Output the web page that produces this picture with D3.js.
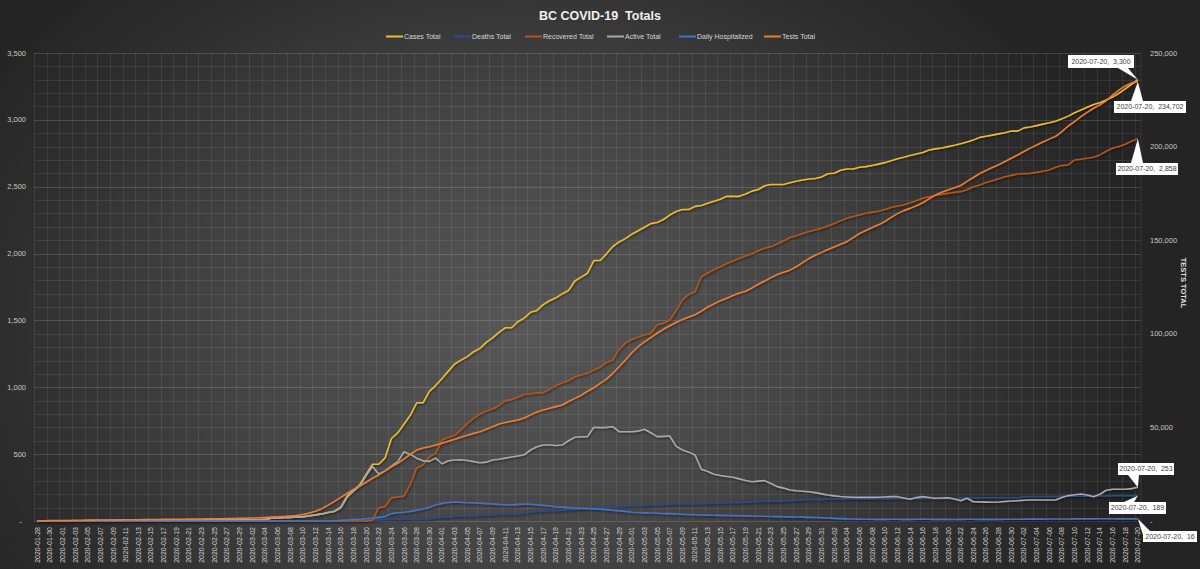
<!DOCTYPE html>
<html><head><meta charset="utf-8">
<script src="https://cdn.jsdelivr.net/npm/d3@7"></script>
<style>html,body{margin:0;padding:0;background:#2a2a2a;} svg{display:block;} text{font-family:"Liberation Sans",Arial,sans-serif;}</style>
</head><body><svg id="chart" width="1200" height="569"></svg>
<script>
// ---------- DATA ----------
const startDate = "2020-01-28", endDate = "2020-07-20";
const parseD = d3.timeParse("%Y-%m-%d"), fmtD = d3.timeFormat("%Y-%m-%d");
const categories = d3.timeDay.range(parseD(startDate), d3.timeDay.offset(parseD(endDate), 1)).map(fmtD);

const casesTotal = [
1,1,1,1,1,1,1,2,2,4, 4,4,4,4,4,4,4,5,5,5, 5,5,5,6,6,6,6,7,7,7, 7,7,8,8,8,9,12,21,21,27,
27,32,32,39,46,53,64,73,103,186, 231,271,348,424,424,472,617,659,725,792,
884,884,970,1013,1066,1121,1174,1203,1229,1266, 1291,1336,1370,1410,1445,1445,1490,1517,1561,1575,
1618,1647,1669,1699,1724,1795,1824,1853,1948,1948, 1998,2053,2087,2112,2145,2171,2197,2224,2232,2255,
2288,2315,2330,2330,2353,2360,2376,2392,2407,2428, 2428,2428,2446,2467,2479,2507,2517,2517,2517,2530,
2541,2550,2558,2562,2573,2597,2601,2623,2632,2632, 2645,2650,2659,2669,2680,2694,2709,2720,2733,2745,
2756,2775,2783,2790,2800,2810,2822,2835,2849,2869, 2878,2886,2895,2904,2916,2916,2940,2947,2957,2968,
2978,2990,3008,3028,3053,3074,3095,3115,3128,3149, 3170,3198,3232,3266,3300];

const deathsTotal = [
0,0,0,0,0,0,0,0,0,0, 0,0,0,0,0,0,0,0,0,0, 0,0,0,0,0,0,0,0,0,0, 0,0,0,0,0,0,0,0,0,0,
0,1,1,1,1,1,1,1,4,7, 7,8,8,10,10,13,13,14,14,16,
17,17,19,24,31,31,35,38,38,39, 43,43,48,50,50,50,55,58,69,72,
75,78,78,81,86,87,90,94,100,100, 100,105,109,111,114,117,117,120,121,124,
126,129,130,130,130,131,132,135,137,139, 139,139,141,144,146,149,149,149,149,153,
155,157,161,161,161,164,165,165,166,166, 166,166,167,167,167,167,168,168,168,168,
168,168,168,168,168,168,171,172,172,173, 174,174,174,174,174,174,181,183,183,183,
183,183,186,186,186,186,186,187,187,188, 189,189,189,189,189];

const recoveredTotal = [
0,0,0,0,0,0,0,0,0,0, 0,0,0,0,0,0,0,0,0,0, 0,0,0,0,0,0,0,0,0,0, 0,0,0,0,0,0,0,0,0,0,
0,0,0,0,0,0,0,0,0,0, 0,0,0,6,100,107,173,180,186,275,
396,419,481,506,606,627,641,681,728,768, 800,822,838,864,900,908,926,948,952,958,
960,984,1012,1034,1049,1079,1092,1107,1129,1150, 1185,1204,1284,1330,1359,1376,1391,1404,1466,1479,
1503,1572,1653,1695,1715,1827,1855,1880,1902,1925, 1944,1965,1981,1998,2021,2040,2052,2071,2095,2120,
2134,2150,2165,2177,2189,2207,2224,2245,2264,2277, 2289,2301,2310,2316,2330,2345,2356,2363,2380,2395,
2413,2425,2434,2443,2450,2458,2463,2478,2500,2513, 2532,2545,2560,2575,2585,2595,2598,2600,2607,2616,
2625,2645,2658,2663,2700,2706,2713,2720,2738,2765, 2787,2800,2818,2840,2858];

const activeTotal = [
1,1,1,1,1,1,1,2,2,4, 4,4,4,4,4,4,4,5,5,5, 5,5,5,6,6,6,6,7,7,7, 7,7,8,8,8,9,12,21,21,27,
27,31,31,38,45,52,63,72,99,179, 224,263,340,408,351,375,410,444,518,498,
470,450,446,470,428,450,456,458,452,444, 436,440,456,462,470,478,486,495,531,555,
568,568,565,568,600,626,630,631,701,698, 700,705,668,668,668,672,686,660,631,633,
636,560,531,515,494,387,370,349,340,333, 327,315,303,294,298,302,281,257,246,232,
226,222,219,212,203,194,188,183,180,178, 177,177,177,178,180,182,182,172,162,175,
182,176,170,172,174,165,152,170,144,143, 141,140,142,146,150,152,155,157,157,157,
157,157,175,190,196,202,195,182,200,230, 237,237,238,242,253];

const dailyHospitalized = [
0,0,0,0,0,0,0,0,0,0, 0,0,0,0,0,0,0,0,0,0, 0,0,0,0,0,0,0,0,0,0, 0,0,0,0,0,0,0,0,0,0,
0,0,0,0,0,0,0,0,5,7, 10,13,17,20,27,33,55,62,66,72,
81,90,102,120,132,138,142,140,137,136, 134,130,128,124,122,120,124,127,125,122,
117,112,107,104,100,97,95,93,91,88, 85,80,76,72,66,63,61,60,58,56,
55,53,51,49,47,45,44,43,42,41, 40,39,38,37,36,35,34,33,32,31,
30,29,27,26,24,22,20,18,16,15, 14,13,13,12,12,13,13,12,12,13,
14,13,12,12,12,11,12,13,13,12, 12,12,12,13,13,13,14,14,14,14,
15,15,15,15,16,16,16,16,17,17, 17,16,16,16,16];

const testsTotal = [
100,130,180,240,270,300,360,420,450,480, 510,530,560,610,650,680,700,730,790,820,
850,880,920,960,1000,1040,1080,1130,1180,1240, 1300,1360,1420,1500,1600,1750,1900,2050,2200,2400,
2650,2950,3500,4300,5200,6600,8500,10500,12600,14800, 16900,18700,20700,22800,24600,26800,29000,30800,33200,35600,
37900,39000,39700,40600,41500,42600,43700,44700,45800,46800, 47700,49000,50400,51800,52600,53300,54000,55000,56700,58200,
59300,60200,61100,62000,63800,65500,67200,69300,71200,73500, 75800,78900,82400,86000,89900,93100,95700,98000,100300,102400,
104300,106000,107600,109000,110200,112100,114300,116000,117600,119000, 120400,121800,122700,124500,126500,128200,130000,131700,132900,134000,
135800,138000,140200,142000,143500,145000,146400,147800,149200,151400, 153600,155200,156800,158200,160000,162200,164200,165800,167000,168400,
170000,172100,174100,175600,176800,178000,179200,181400,183500,185600, 187200,188800,190300,192000,193800,195500,197400,199200,200900,202500,
204000,205500,208000,211000,213300,216000,218300,220500,222300,224500, 227500,230200,232400,234000,234702];

const leftTicks = [0,500,1000,1500,2000,2500,3000,3500];
const rightTicks = [0,50000,100000,150000,200000,250000];
const seriesNames = ["Cases Total","Deaths Total","Recovered Total","Active Total","Daily Hospitalized","Tests Total"];
const titleText = "BC COVID-19  Totals";
const rightAxisTitle = "TESTS TOTAL";

// ---------- LAYOUT ----------
const W = 1200, H = 569;
const M = {left: 34, right: 1141, top: 53, bottom: 521};
const colors = ["#EDBB2F","#2E4A8B","#B3561A","#A8A8A8","#4472C4","#ED7D31"];
const svg = d3.select("#chart");

const defs = svg.append("defs");
const rg = defs.append("radialGradient").attr("id","bg").attr("gradientUnits","userSpaceOnUse")
  .attr("cx",520).attr("cy",330).attr("r",640)
  .attr("gradientTransform","translate(520 330) scale(1 0.75) translate(-520 -330)");
rg.append("stop").attr("offset","0%").attr("stop-color","#575757");
rg.append("stop").attr("offset","45%").attr("stop-color","#454545");
rg.append("stop").attr("offset","80%").attr("stop-color","#2e2e2e");
rg.append("stop").attr("offset","100%").attr("stop-color","#242424");
const f = defs.append("filter").attr("id","sh").attr("x","-5%").attr("y","-5%").attr("width","110%").attr("height","110%");
f.append("feDropShadow").attr("dx",0.8).attr("dy",1.2).attr("stdDeviation",0.8).attr("flood-color","#000").attr("flood-opacity",0.55);

svg.append("rect").attr("width",W).attr("height",H).attr("fill","url(#bg)");

const x = d3.scaleBand().domain(categories).range([M.left, M.right]).padding(0);
const xc = d => x(d) + x.bandwidth()/2;
const yL = d3.scaleLinear().domain([0,3500]).range([M.bottom, M.top]);
const yR = d3.scaleLinear().domain([0,250000]).range([M.bottom, M.top]);

// gridlines
const grid = svg.append("g");
const minorVals = d3.range(0, 3501, 100);
grid.selectAll("line.hm").data(minorVals).join("line")
  .attr("x1",M.left).attr("x2",M.right)
  .attr("y1",d=>Math.round(yL(d))+0.5).attr("y2",d=>Math.round(yL(d))+0.5)
  .attr("stroke", d => d % 500 === 0 ? "rgba(255,255,255,0.15)" : "rgba(255,255,255,0.08)")
  .attr("stroke-width",1);
grid.selectAll("line.v").data(categories.filter((d,i)=>i%2===0).concat(["__end"])).join("line")
  .attr("x1",d=> d==="__end" ? M.right : Math.round(x(d))+0.5)
  .attr("x2",d=> d==="__end" ? M.right : Math.round(x(d))+0.5)
  .attr("y1",M.top).attr("y2",M.bottom)
  .attr("stroke","rgba(255,255,255,0.08)").attr("stroke-width",1);

// axes labels
const fmtN = d => d === 0 ? "-" : d3.format(",")(d);
svg.append("g").selectAll("text").data(leftTicks).join("text")
  .attr("x", d => d===0 ? 22 : 26).attr("y", d => yL(d)).attr("dy","0.35em")
  .attr("text-anchor","end").attr("font-size",7.5).attr("fill","#c8c8c8").text(fmtN);
svg.append("g").selectAll("text").data(rightTicks).join("text")
  .attr("x", 1150).attr("y", d => yR(d)).attr("dy","0.35em")
  .attr("text-anchor","start").attr("font-size",7.5).attr("fill","#c8c8c8").text(fmtN);
svg.append("text").attr("transform","translate(1184,283) rotate(90)")
  .attr("text-anchor","middle").attr("dy","0.35em").attr("font-size",7.5).attr("font-weight","bold")
  .attr("fill","#e0e0e0").text(rightAxisTitle);

// x labels
svg.append("g").selectAll("text").data(categories.filter((d,i)=>i%2===0)).join("text")
  .attr("transform", d => `translate(${xc(d)},527) rotate(-90)`)
  .attr("text-anchor","end").attr("dy","0.35em").attr("font-size",7).attr("fill","#d2d2d2").text(d=>d);

// lines
const seriesData = [casesTotal, deathsTotal, recoveredTotal, activeTotal, dailyHospitalized, testsTotal];
const scales = [yL, yL, yL, yL, yL, yR];
const lg = svg.append("g").attr("filter","url(#sh)");
seriesData.forEach((arr, k) => {
  const line = d3.line().x((v,i)=>xc(categories[i])).y(v=>scales[k](v));
  lg.append("path").datum(arr).attr("d", line).attr("fill","none")
    .attr("stroke", colors[k]).attr("stroke-width",1.6).attr("stroke-linejoin","round");
});

// title
svg.append("text").attr("x",600).attr("y",20).attr("text-anchor","middle")
  .attr("font-size",12.5).attr("font-weight","bold").attr("fill","#f0f0f0")
  .style("white-space","pre").text(titleText);

// legend
const legendX = [386, 454, 525, 607, 679, 764];
const leg = svg.append("g");
seriesNames.forEach((n,k) => {
  leg.append("line").attr("x1",legendX[k]).attr("x2",legendX[k]+17).attr("y1",36.5).attr("y2",36.5)
    .attr("stroke",colors[k]).attr("stroke-width",2);
  leg.append("text").attr("x",legendX[k]+18).attr("y",39).attr("font-size",7).attr("fill","#d6d6d6").text(n);
});

// callouts
const last = categories.length - 1;
const callouts = [
  {k:0, box:[1068,55,66,13], base:[1118,68,1128,68]},
  {k:5, box:[1114,101,72,12], base:[1131,101,1143,101]},
  {k:2, box:[1116,163,62,12], base:[1131,163,1143,163]},
  {k:3, box:[1118,463,56,12], base:[1128,475,1139,475]},
  {k:4-3, box:[1109,502,57,12], base:[1124,502,1134,502]},
  {k:4, box:[1143,531,54,11], base:[1143,535,1150,531]}
];
const cg = svg.append("g");
const fmtV = d3.format(",");
callouts.forEach(c => {
  const tx = xc(categories[last]), ty = scales[c.k](seriesData[c.k][last]);
  const [bx,by,bw,bh] = c.box;
  cg.append("polygon").attr("points", `${c.base[0]},${c.base[1]} ${c.base[2]},${c.base[3]} ${tx},${ty}`).attr("fill","#ffffff");
  cg.append("rect").attr("x",bx).attr("y",by).attr("width",bw).attr("height",bh).attr("fill","#ffffff");
  cg.append("text").attr("x",bx+bw/2).attr("y",by+bh/2).attr("dy","0.35em").attr("text-anchor","middle")
    .attr("font-size",7).attr("fill","#404040").style("white-space","pre")
    .text(`${categories[last]},  ${fmtV(seriesData[c.k][last])}`);
});
</script></body></html>
